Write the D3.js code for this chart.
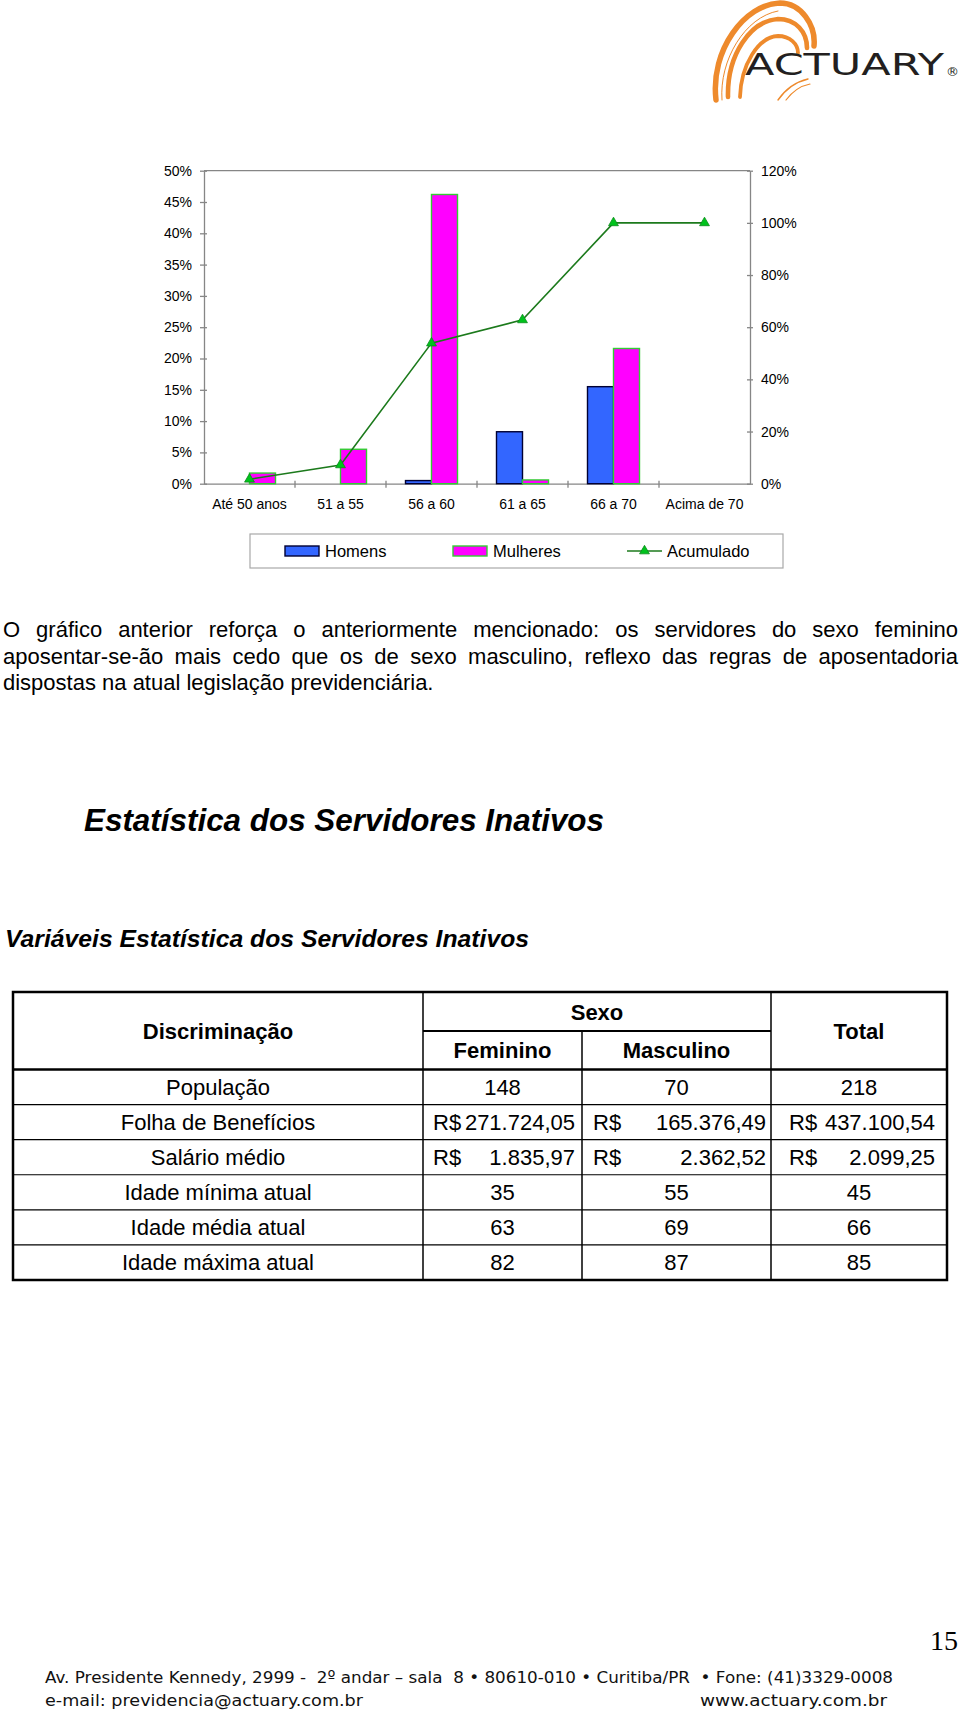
<!DOCTYPE html>
<html><head><meta charset="utf-8">
<script src="https://cdn.jsdelivr.net/npm/d3@7"></script>
<style>body{margin:0;background:#fff} svg{display:block}</style>
</head><body>
<svg id="page" width="960" height="1713"></svg>
<script>
// ---------------- DATA ----------------
const categories = ["Até 50 anos", "51 a 55", "56 a 60", "61 a 65", "66 a 70", "Acima de 70"];
const homens    = [0.000, 0.000, 0.005, 0.083, 0.155, 0.000];
const mulheres  = [0.017, 0.055, 0.462, 0.006, 0.216, 0.000];
const acumulado = [0.017, 0.072, 0.539, 0.628, 1.000, 1.000];
const leftTicks  = [0, 0.05, 0.10, 0.15, 0.20, 0.25, 0.30, 0.35, 0.40, 0.45, 0.50];
const rightTicks = [0, 0.2, 0.4, 0.6, 0.8, 1.0, 1.2];
const seriesNames = ["Homens", "Mulheres", "Acumulado"];

const paragraphLines = [
  "O gráfico anterior reforça o anteriormente mencionado: os servidores do sexo feminino",
  "aposentar-se-ão mais cedo que os de sexo masculino, reflexo das regras de aposentadoria",
  "dispostas na atual legislação previdenciária."
];
const sectionTitle = "Estatística dos Servidores Inativos";
const tableTitle = "Variáveis Estatística dos Servidores Inativos";
const tableRows = ["População", "Folha de Benefícios", "Salário médio", "Idade mínima atual", "Idade média atual", "Idade máxima atual"];
const feminino  = ["148", "R$271.724,05", "R$ 1.835,97", "35", "63", "82"];
const masculino = ["70", "R$ 165.376,49", "R$ 2.362,52", "55", "69", "87"];
const total     = ["218", "R$ 437.100,54", "R$ 2.099,25", "45", "66", "85"];

// ---------------- SETUP ----------------
const FONT = "'Liberation Sans', Arial, Helvetica, sans-serif";
const svg = d3.select("#page");
svg.append("rect").attr("width", 960).attr("height", 1713).attr("fill", "#fff");

// ---------------- LOGO ----------------
const logo = svg.append("g").attr("fill", "none").attr("stroke-linecap", "round");
const orange = "#EE8A2C";
const swoosh = [
  {d: "M716,100 C710,50 745,4 780,3 C801,3 816,25 814,46", w: 5.5},
  {d: "M728,97 C727,55 750,21 778,19 C796,19 807,32 807,48", w: 4.6},
  {d: "M740,97 C741,65 758,37 778,36 C790,36 798,44 798,53", w: 3.8},
  {d: "M722,100 C719,60 745,17 778,11", w: 1},
  {d: "M778,100 C785,90 795,82 808,79", w: 1.4},
  {d: "M786,100 C792,92 800,86 810,84", w: 1.2}
];
logo.selectAll("path").data(swoosh).join("path")
  .attr("d", d => d.d).attr("stroke", orange).attr("stroke-width", d => d.w);
logo.append("text").attr("x", 745).attr("y", 75)
  .attr("font-family", "'DejaVu Sans', sans-serif").attr("font-size", 30)
  .attr("textLength", 199).attr("lengthAdjust", "spacingAndGlyphs")
  .attr("fill", "#231F20").text("ACTUARY");
logo.append("text").attr("x", 946).attr("y", 76)
  .attr("font-family", "'DejaVu Sans', sans-serif").attr("font-size", 13)
  .attr("fill", "#231F20").text("®");

// ---------------- CHART ----------------
const plot = {left: 204, right: 750, top: 170.7, bottom: 483.7};
const x = d3.scaleBand().domain(categories).range([plot.left, plot.right]);
const xs = d3.scaleBand().domain(["Homens", "Mulheres"]).range([0, x.bandwidth()]).paddingOuter(0.75);
const yL = d3.scaleLinear().domain([0, 0.5]).range([plot.bottom, plot.top]);
const yR = d3.scaleLinear().domain([0, 1.2]).range([plot.bottom, plot.top]);
const axisColor = "#868686";

function styleAxis(g) {
  g.attr("font-family", FONT).attr("font-size", 14);
  g.selectAll("path, line").attr("stroke", axisColor).attr("stroke-width", 1.3);
  g.selectAll("text").attr("fill", "#000");
}

// top border
svg.append("line").attr("x1", plot.left).attr("x2", plot.right)
  .attr("y1", plot.top).attr("y2", plot.top)
  .attr("stroke", axisColor).attr("stroke-width", 1.3);

const gL = svg.append("g").attr("transform", `translate(${plot.left},0)`)
  .call(d3.axisLeft(yL).tickValues(leftTicks).tickFormat(d3.format(".0%"))
    .tickSizeInner(4).tickSizeOuter(0).tickPadding(8));
gL.selectAll(".tick line").attr("x1", 3);
styleAxis(gL);

const gR = svg.append("g").attr("transform", `translate(${plot.right},0)`)
  .call(d3.axisRight(yR).tickValues(rightTicks).tickFormat(d3.format(".0%"))
    .tickSizeInner(3).tickSizeOuter(0).tickPadding(8));
gR.selectAll(".tick line").attr("x1", -3);
styleAxis(gR);

const gB = svg.append("g").attr("transform", `translate(0,${plot.bottom})`)
  .call(d3.axisBottom(x).tickSize(0).tickSizeOuter(0).tickPadding(15));
gB.selectAll("line.sep").data(categories.slice(1)).join("line").attr("class", "sep")
  .attr("x1", d => x(d)).attr("x2", d => x(d)).attr("y1", -3).attr("y2", 4);
styleAxis(gB);

// bars
const barData = categories.flatMap((c, i) => [
  {c, s: "Homens", v: homens[i]},
  {c, s: "Mulheres", v: mulheres[i]}
]).filter(d => d.v > 0);
const fillC = {Homens: "#3366FF", Mulheres: "#FF00FF"};
const strokeC = {Homens: "#000033", Mulheres: "#33CC33"};
svg.append("g").selectAll("rect").data(barData).join("rect")
  .attr("x", d => x(d.c) + xs(d.s))
  .attr("y", d => yL(d.v))
  .attr("width", xs.bandwidth())
  .attr("height", d => yL(0) - yL(d.v))
  .attr("fill", d => fillC[d.s])
  .attr("stroke", d => strokeC[d.s])
  .attr("stroke-width", 1.4);

// cumulative line
const lineColor = "#1C7A1C";
const markerFill = "#00C21C";
const lineGen = d3.line().x((d, i) => x(categories[i]) + x.bandwidth() / 2).y(d => yR(d));
svg.append("path").datum(acumulado).attr("d", lineGen)
  .attr("fill", "none").attr("stroke", lineColor).attr("stroke-width", 1.6);
const tri = d3.symbol(d3.symbolTriangle).size(42);
svg.append("g").selectAll("path").data(acumulado).join("path")
  .attr("transform", (d, i) => `translate(${x(categories[i]) + x.bandwidth() / 2},${yR(d)})`)
  .attr("d", tri).attr("fill", markerFill).attr("stroke", "#0A8A1A").attr("stroke-width", 0.8);

// legend
const lg = svg.append("g");
lg.append("rect").attr("x", 250).attr("y", 534).attr("width", 533).attr("height", 34)
  .attr("fill", "#fff").attr("stroke", "#A8A8A8").attr("stroke-width", 1.2);
const legendX = [285, 453, 627];
const legendCy = 551;
seriesNames.forEach((name, i) => {
  const lx = legendX[i];
  if (i < 2) {
    lg.append("rect").attr("x", lx).attr("y", legendCy - 5).attr("width", 34).attr("height", 10)
      .attr("fill", fillC[name]).attr("stroke", strokeC[name]).attr("stroke-width", 1.4);
  } else {
    lg.append("line").attr("x1", lx).attr("x2", lx + 35).attr("y1", legendCy).attr("y2", legendCy)
      .attr("stroke", lineColor).attr("stroke-width", 1.6);
    lg.append("path").attr("transform", `translate(${lx + 17.5},${legendCy})`).attr("d", tri)
      .attr("fill", markerFill).attr("stroke", "#0A8A1A").attr("stroke-width", 0.8);
  }
  lg.append("text").attr("x", lx + 40).attr("y", legendCy).attr("dy", "0.36em")
    .attr("font-family", FONT).attr("font-size", 16.5).attr("fill", "#000").text(name);
});

// ---------------- PARAGRAPH ----------------
const paraBase = [637, 663.5, 690];
paragraphLines.forEach((line, i) => {
  const t = svg.append("text").attr("x", 3).attr("y", paraBase[i])
    .attr("font-family", FONT).attr("font-size", 22).attr("fill", "#000")
    .style("white-space", "pre").text(line);
  if (i < paragraphLines.length - 1) {
    const natural = t.node().getComputedTextLength();
    const spaces = line.split(" ").length - 1;
    const avail = 958 - 3;
    if (natural < avail) t.style("word-spacing", ((avail - natural) / spaces) + "px");
    else t.attr("textLength", avail).attr("lengthAdjust", "spacingAndGlyphs");
  }
});

// ---------------- TITLES ----------------
svg.append("text").attr("x", 84).attr("y", 831)
  .attr("font-family", FONT).attr("font-size", 31).attr("font-weight", "bold").attr("font-style", "italic")
  .attr("textLength", 520).attr("lengthAdjust", "spacingAndGlyphs").text(sectionTitle);
svg.append("text").attr("x", 5).attr("y", 947)
  .attr("font-family", FONT).attr("font-size", 24.5).attr("font-weight", "bold").attr("font-style", "italic")
  .attr("textLength", 524).attr("lengthAdjust", "spacingAndGlyphs").text(tableTitle);

// ---------------- TABLE ----------------
const T = {left: 13, right: 947, top: 992, sexoDiv: 1031, headBottom: 1069.5, bottom: 1280};
const colEdges = [T.left, 423, 582, 771, T.right];
const rowScale = d3.scaleBand().domain(tableRows).range([T.headBottom, T.bottom]);
const tg = svg.append("g").attr("stroke", "#000");
tg.selectAll("line.row").data(tableRows.slice(1)).join("line").attr("class", "row")
  .attr("x1", T.left).attr("x2", T.right)
  .attr("y1", d => rowScale(d)).attr("y2", d => rowScale(d)).attr("stroke-width", 1.2);
tg.selectAll("line.col").data(colEdges.slice(1, 4)).join("line").attr("class", "col")
  .attr("x1", d => d).attr("x2", d => d)
  .attr("y1", (d, i) => i === 1 ? T.sexoDiv : T.top).attr("y2", T.bottom).attr("stroke-width", 1.5);
tg.append("line").attr("x1", colEdges[1]).attr("x2", colEdges[3]).attr("y1", T.sexoDiv).attr("y2", T.sexoDiv).attr("stroke-width", 2.2);
tg.append("line").attr("x1", T.left).attr("x2", T.right).attr("y1", T.headBottom).attr("y2", T.headBottom).attr("stroke-width", 2.5);
tg.append("rect").attr("x", T.left).attr("y", T.top).attr("width", T.right - T.left).attr("height", T.bottom - T.top)
  .attr("fill", "none").attr("stroke-width", 2.5);

function cellText(txt, cx, cy, opts = {}) {
  return svg.append("text").attr("x", cx).attr("y", cy).attr("dy", "0.36em")
    .attr("text-anchor", opts.anchor || "middle")
    .attr("font-family", FONT).attr("font-size", 22)
    .attr("font-weight", opts.bold ? "bold" : "normal").attr("fill", "#000").text(txt);
}
cellText("Discriminação", (colEdges[0] + colEdges[1]) / 2, (T.top + T.headBottom) / 2, {bold: true});
cellText("Sexo", (colEdges[1] + colEdges[3]) / 2, (T.top + T.sexoDiv) / 2 + 1, {bold: true});
cellText("Feminino", (colEdges[1] + colEdges[2]) / 2, (T.sexoDiv + T.headBottom) / 2, {bold: true});
cellText("Masculino", (colEdges[2] + colEdges[3]) / 2, (T.sexoDiv + T.headBottom) / 2, {bold: true});
cellText("Total", (colEdges[3] + colEdges[4]) / 2, (T.top + T.headBottom) / 2, {bold: true});

const cols = [
  {vals: feminino, ci: 1, padL: 10, padR: 7},
  {vals: masculino, ci: 2, padL: 11, padR: 5},
  {vals: total, ci: 3, padL: 18, padR: 12}
];
tableRows.forEach((r, ri) => {
  const cy = rowScale(r) + rowScale.bandwidth() / 2;
  cellText(r, (colEdges[0] + colEdges[1]) / 2, cy);
  cols.forEach(col => {
    const v = col.vals[ri];
    const l = colEdges[col.ci], rr = colEdges[col.ci + 1];
    if (v.startsWith("R$")) {
      cellText("R$", l + col.padL, cy, {anchor: "start"});
      cellText(v.slice(2).trim(), rr - col.padR, cy, {anchor: "end"});
    } else {
      cellText(v, (l + rr) / 2, cy);
    }
  });
});

// ---------------- FOOTER ----------------
svg.append("text").attr("x", 958).attr("y", 1650).attr("text-anchor", "end")
  .attr("font-family", "'Liberation Serif', 'Times New Roman', serif").attr("font-size", 28)
  .attr("fill", "#000").text("15");
const footFont = "'DejaVu Sans', 'Lato', sans-serif";
svg.append("text").attr("x", 45).attr("y", 1683).style("white-space", "pre")
  .attr("font-family", footFont).attr("font-size", 16.5).attr("fill", "#111")
  .attr("textLength", 848).attr("lengthAdjust", "spacingAndGlyphs")
  .text("Av. Presidente Kennedy, 2999 -  2º andar – sala  8 • 80610-010 • Curitiba/PR  • Fone: (41)3329-0008");
svg.append("text").attr("x", 45).attr("y", 1706)
  .attr("font-family", footFont).attr("font-size", 16.5).attr("fill", "#111")
  .attr("textLength", 318).attr("lengthAdjust", "spacingAndGlyphs")
  .text("e-mail: previdencia@actuary.com.br");
svg.append("text").attr("x", 700).attr("y", 1706)
  .attr("font-family", footFont).attr("font-size", 16.5).attr("fill", "#111")
  .attr("textLength", 187).attr("lengthAdjust", "spacingAndGlyphs")
  .text("www.actuary.com.br");
</script>
</body></html>
